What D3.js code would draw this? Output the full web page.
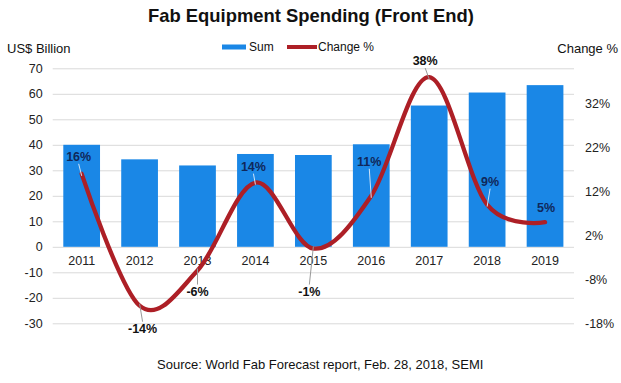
<!DOCTYPE html>
<html>
<head>
<meta charset="utf-8">
<script src="https://cdn.jsdelivr.net/npm/d3@7/dist/d3.min.js"></script>
<style>
  html, body { margin: 0; padding: 0; background: #fff; }
  svg { display: block; font-family: "Liberation Sans", Arial, sans-serif; }
</style>
</head>
<body>
<svg id="chart" width="621" height="383"></svg>
<script>
// ---- data ----
const years = ["2011","2012","2013","2014","2015","2016","2017","2018","2019"];
const sums = [40.0, 34.3, 31.9, 36.4, 36.0, 40.2, 55.4, 60.5, 63.4];
const changes = [16, -14, -6, 14, -1, 11, 38, 9, 5];
const leftTicks = [-30, -20, -10, 0, 10, 20, 30, 40, 50, 60, 70];
const rightTicks = [-18, -8, 2, 12, 22, 32];
// label placement (layout, pixels relative to point)
const labelOffsets = [[-3,-17],[3,23],[0,21],[-2,-16],[-4,43],[-2,-34],[-4,-16],[3,-23],[1,-15]];
const insideBar = [true,false,false,true,false,true,false,true,true];

(function () {
const svg = d3.select("#chart");
const pL = 52.7, pR = 574, pT = 68.3, pB = 323.3;

const x = d3.scaleBand().domain(years).range([pL, pR]).paddingInner(0.366).paddingOuter(0.183);
const yL = d3.scaleLinear().domain([-30, 70]).range([pB, pT]);
const yR = d3.scaleLinear().domain([-18, 40]).range([pB, pT]);
const font = "Liberation Sans, Arial, sans-serif";

// gridlines
svg.append("g")
  .attr("transform", `translate(${pL},0)`)
  .call(d3.axisLeft(yL).tickValues(leftTicks).tickSize(-(pR - pL)).tickFormat(""))
  .call(g => g.select(".domain").remove())
  .call(g => g.selectAll("line").attr("stroke", "#d9d9d9").attr("stroke-width", 1));

// left axis labels
svg.append("g")
  .attr("transform", `translate(${pL},0)`)
  .call(d3.axisLeft(yL).tickValues(leftTicks).tickSize(0).tickPadding(10).tickFormat(d => String(d)))
  .call(g => g.select(".domain").remove())
  .call(g => g.selectAll("text").attr("font-size", 12.5).attr("fill", "#222").style("font-family", font));

// right axis labels
svg.append("g")
  .attr("transform", `translate(${pR},0)`)
  .call(d3.axisRight(yR).tickValues(rightTicks).tickSize(0).tickPadding(11).tickFormat(d => d + "%"))
  .call(g => g.select(".domain").remove())
  .call(g => g.selectAll("text").attr("font-size", 12.5).attr("fill", "#222").style("font-family", font));

// bars
svg.append("g").selectAll("rect").data(years).join("rect")
  .attr("x", d => x(d))
  .attr("width", x.bandwidth())
  .attr("y", (d, i) => yL(sums[i]))
  .attr("height", (d, i) => yL(0) - yL(sums[i]))
  .attr("fill", "#1a87e6");

// x axis labels
svg.append("g")
  .attr("transform", `translate(0,${yL(0)})`)
  .call(d3.axisBottom(x).tickSize(0).tickPadding(9))
  .call(g => g.select(".domain").remove())
  .call(g => g.selectAll("text").attr("font-size", 12.5).attr("fill", "#222").style("font-family", font));

// line
const cx = d => x(d) + x.bandwidth() / 2;
const line = d3.line()
  .x((d, i) => cx(years[i]))
  .y(d => yR(d))
  .curve(d3.curveCardinal.tension(0));
svg.append("path")
  .datum(changes)
  .attr("d", line)
  .attr("fill", "none")
  .attr("stroke", "#ad1f26")
  .attr("stroke-width", 4.3)
  .attr("stroke-linecap", "round");

// labels with leader lines
const lab = svg.append("g");
changes.forEach((v, i) => {
  const px = cx(years[i]), py = yR(v);
  const lx = px + labelOffsets[i][0], ly = py + labelOffsets[i][1];
  const dist = Math.abs(labelOffsets[i][1]);
  if (dist > 15) {
    const dir = Math.sign(labelOffsets[i][1]);
    lab.append("line")
      .attr("x1", lx).attr("y1", ly - dir * 7)
      .attr("x2", px).attr("y2", py - dir * 2)
      .attr("stroke", insideBar[i] ? "#cfe3f7" : "#999")
      .attr("stroke-width", 1);
  }
  lab.append("text")
    .attr("x", lx).attr("y", ly)
    .attr("dy", "0.35em")
    .attr("text-anchor", "middle")
    .attr("font-size", 12.5)
    .attr("font-weight", "bold")
    .attr("fill", insideBar[i] ? "#10285a" : "#111")
    .text(v + "%");
});

// title
svg.append("text").attr("x", 311).attr("y", 22).attr("text-anchor", "middle")
  .attr("font-size", 18.4).attr("font-weight", "bold").attr("fill", "#111")
  .text("Fab Equipment Spending (Front End)");

// axis titles
svg.append("text").attr("x", 7).attr("y", 53).attr("font-size", 13).attr("fill", "#111").text("US$ Billion");
svg.append("text").attr("x", 618).attr("y", 53).attr("text-anchor", "end").attr("font-size", 13).attr("fill", "#111").text("Change %");

// legend
const lg = svg.append("g");
lg.append("rect").attr("x", 222).attr("y", 44.5).attr("width", 24).attr("height", 5).attr("fill", "#1a87e6");
lg.append("text").attr("x", 249).attr("y", 51).attr("font-size", 12).attr("fill", "#111").text("Sum");
lg.append("line").attr("x1", 287).attr("x2", 317).attr("y1", 47).attr("y2", 47)
  .attr("stroke", "#ad1f26").attr("stroke-width", 4);
lg.append("text").attr("x", 318).attr("y", 51).attr("font-size", 12).attr("fill", "#111").text("Change %");

// source
svg.append("text").attr("x", 157).attr("y", 369).attr("font-size", 13).attr("fill", "#111")
  .text("Source: World Fab Forecast report, Feb. 28, 2018, SEMI");
})();
</script>
</body>
</html>
